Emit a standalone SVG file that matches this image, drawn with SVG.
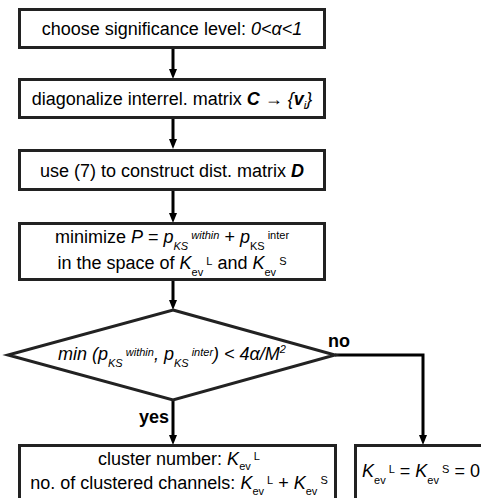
<svg xmlns="http://www.w3.org/2000/svg" width="481" height="498" viewBox="0 0 481 498">
<style>
.box{fill:#fff;stroke:#222;stroke-width:3}
.ln{fill:none;stroke:#000;stroke-width:3}
text{font-family:"Liberation Sans",Arial,sans-serif;font-size:18px;fill:#000}
.c{text-anchor:middle}
.i{font-style:italic}
.b{font-weight:bold}
.s{font-size:11px}
.lab{font-weight:bold;font-size:18px}
</style>
<g id="connectors">
<path class="ln" d="M173,48 V70"/><path d="M169,69 H177 L173,79 Z"/>
<path class="ln" d="M173,118 V140"/><path d="M169,139 H177 L173,149 Z"/>
<path class="ln" d="M173,190 V214"/><path d="M169,213 H177 L173,223 Z"/>
<path class="ln" d="M173,280 V301"/><path d="M169,300 H177 L173,310 Z"/>
<path class="ln" d="M173,400 V436"/><path d="M169,435 H177 L173,445 Z"/>
<path class="ln" d="M335,355 H423 V436"/><path d="M419,435 H427 L423,445 Z"/>
<text class="lab" x="328" y="347">no</text>
<text class="lab" x="139" y="423">yes</text>
</g>
<g id="n1">
<rect class="box" x="19.5" y="9.5" width="305" height="38"/>
<text class="c" x="172" y="35">choose significance level: <tspan class="i">0&lt;α&lt;1</tspan></text>
</g>
<g id="n2">
<rect class="box" x="19.5" y="79.5" width="305" height="38"/>
<text class="c" x="172" y="105">diagonalize interrel. matrix <tspan class="b i">C</tspan> → <tspan class="i">{</tspan><tspan class="b i">v</tspan><tspan class="i s" dy="4">i</tspan><tspan class="i" dy="-4">}</tspan></text>
</g>
<g id="n3">
<rect class="box" x="19.5" y="150.5" width="305" height="39"/>
<text class="c" x="172" y="177">use (7) to construct dist. matrix <tspan class="b i">D</tspan></text>
</g>
<g id="n4">
<rect class="box" x="19.5" y="223.5" width="305" height="56"/>
<text class="c" x="172" y="243">minimize <tspan class="i">P</tspan> = <tspan class="i">p</tspan><tspan class="i s" dy="7">KS</tspan><tspan class="i s" dy="-11"> within</tspan><tspan dy="4"> + </tspan><tspan class="i">p</tspan><tspan class="s" dy="7">KS</tspan><tspan class="s" dy="-11"> inter</tspan></text>
<text class="c" x="172" y="269">in the space of <tspan class="i">K</tspan><tspan class="s" dy="7">ev</tspan><tspan class="s" dy="-11"> L</tspan><tspan dy="4"> and </tspan><tspan class="i">K</tspan><tspan class="s" dy="7">ev</tspan><tspan class="s" dy="-11"> S</tspan></text>
</g>
<g id="n5">
<path class="box" d="M173,310 L335,355 L173,400 L8,355 Z"/>
<text class="c i" x="172" y="360">min (p<tspan class="s" dy="7">KS</tspan><tspan class="s" dy="-11"> within</tspan><tspan dy="4">, p</tspan><tspan class="s" dy="7">KS</tspan><tspan class="s" dy="-11"> inter</tspan><tspan dy="4">) &lt; 4α/M</tspan><tspan class="s" dy="-7">2</tspan></text>
</g>
<g id="n6">
<rect class="box" x="19.5" y="445.5" width="316" height="60"/>
<text class="c" x="179" y="465">cluster number: <tspan class="i">K</tspan><tspan class="s" dy="5">ev</tspan><tspan class="s" dy="-10"> L</tspan></text>
<text class="c" x="179" y="489">no. of clustered channels: <tspan class="i">K</tspan><tspan class="s" dy="6">ev</tspan><tspan class="s" dy="-11"> L</tspan><tspan dy="5"> + </tspan><tspan class="i">K</tspan><tspan class="s" dy="6">ev</tspan><tspan class="s" dy="-11"> S</tspan></text>
</g>
<g id="n7">
<rect class="box" x="355.5" y="445.5" width="140" height="60"/>
<text x="362" y="477"><tspan class="i">K</tspan><tspan class="s" dy="7">ev</tspan><tspan class="s" dy="-11"> L</tspan><tspan dy="4"> = </tspan><tspan class="i">K</tspan><tspan class="s" dy="7">ev</tspan><tspan class="s" dy="-11"> S</tspan><tspan dy="4"> = 0</tspan></text>
</g>
</svg>
